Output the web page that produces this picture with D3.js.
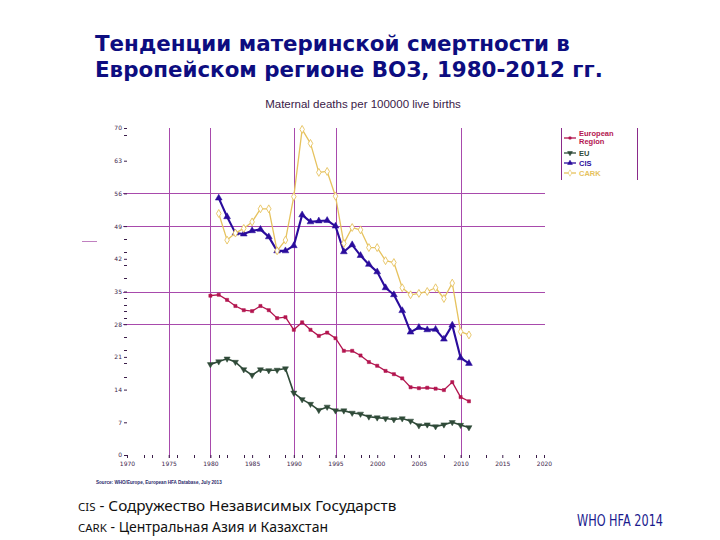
<!DOCTYPE html>
<html>
<head>
<meta charset="utf-8">
<script src="https://cdn.jsdelivr.net/npm/d3@7"></script>
<style>
  html, body { margin: 0; padding: 0; background: #fff; }
  svg { display: block; }
</style>
</head>
<body>
<svg id="chart" width="720" height="540"></svg>
<script>
// ---- DATA ----
const titleLines = ["Тенденции материнской смертности в", "Европейском регионе ВОЗ, 1980-2012 гг."];
const chartTitle = "Maternal deaths per 100000 live births";
const sourceText = "Source: WHO/Europe, European HFA Database, July 2013";
const footLines = [["CIS", " - Содружество Независимых Государств"], ["CARK", " - Центральная Азия и Казахстан"]];
const footRight = "WHO HFA 2014";

const yTickValues = [0, 7, 14, 21, 28, 35, 42, 49, 56, 63, 70];
const yMinorTicks = [68.6, 46.2, 43.4, 40.6, 37.8, 33.6, 32.2, 30.8, 29.4, 25.2, 22.4, 19.6, 16.8];
const xTickValues = [1970, 1975, 1980, 1985, 1990, 1995, 2000, 2005, 2010, 2015, 2020];
const xMinorTicks = [1972, 1973, 1976, 1978, 1981, 1982, 1984, 1987, 1989, 1991, 1993, 1996, 1998, 1999, 2002, 2004, 2008, 2011, 2013, 2017, 2019];
const yGrid = [28, 35, 49, 56];
const xGrid = [1975, 1980, 1990, 1995, 2010];

const yearsER = d3.range(1980, 2012);
const valuesER = [34.1, 34.3, 33.2, 31.9, 31.0, 30.8, 31.9, 31.0, 29.3, 29.5, 26.8, 28.4, 26.8, 25.5, 26.2, 25.0,
                  22.3, 22.3, 21.3, 19.9, 19.1, 18.0, 17.3, 16.4, 14.5, 14.3, 14.4, 14.2, 13.9, 15.6, 12.4, 11.5];
const yearsEU = d3.range(1980, 2012);
const valuesEU = [19.4, 20.0, 20.6, 19.9, 18.3, 17.1, 18.3, 18.1, 18.2, 18.5, 13.3, 11.9, 10.9, 9.6, 10.3, 9.5,
                  9.5, 9.0, 8.8, 8.2, 8.0, 7.8, 7.6, 7.8, 7.3, 6.3, 6.5, 6.1, 6.5, 7.0, 6.4, 5.9];
const yearsCIS = d3.range(1981, 2012);
const valuesCIS = [55.0, 51.0, 47.5, 47.3, 48.0, 48.3, 46.7, 43.7, 43.7, 44.8, 51.4, 49.9, 50.1, 50.2, 49.0,
                   43.5, 45.0, 42.7, 40.8, 39.2, 35.8, 34.3, 30.9, 26.3, 27.3, 26.8, 26.9, 24.8, 27.8, 20.8, 19.6];
const yearsCARK = d3.range(1981, 2012);
const valuesCARK = [51.7, 46.0, 47.5, 48.5, 49.9, 52.7, 52.7, 43.7, 46.0, 55.3, 69.7, 66.7, 60.5, 60.7, 55.4,
                    45.3, 48.7, 48.2, 44.4, 44.4, 41.6, 41.2, 35.8, 34.3, 34.6, 35.0, 35.8, 33.5, 36.8, 26.4, 25.7];

const seriesNames = ["European Region", "EU", "CIS", "CARK"];
const seriesColors = ["#b3154f", "#2f4a38", "#2a0c9c", "#e6c25e"];

// ---- DRAW ----
const svg = d3.select("#chart");
const x = d3.scaleLinear().domain([1970, 2020]).range([127, 544]);
const y = d3.scaleLinear().domain([0, 70]).range([455, 128]);
const crisp = v => Math.round(v) + 0.5;
const gridColor = "#a84aac";
const axisText = "#3b1d4a";

// Title
svg.append("g").selectAll("text").data(titleLines).join("text")
  .attr("x", 95).attr("y", (d, i) => 51 + i * 26)
  .attr("font-family", "DejaVu Sans").attr("font-weight", "bold")
  .attr("font-size", 21.4).attr("fill", "#0d0d80")
  .text(d => d);

// chart title
svg.append("text").attr("x", 363).attr("y", 108).attr("text-anchor", "middle")
  .attr("font-family", "Liberation Sans, Arial").attr("font-size", 11.5).attr("fill", "#3a1a48")
  .text(chartTitle);

// grid
svg.append("g").selectAll("line").data(yGrid).join("line")
  .attr("x1", 123).attr("x2", 545).attr("y1", d => crisp(y(d))).attr("y2", d => crisp(y(d)))
  .attr("stroke", gridColor).attr("stroke-width", 1);
svg.append("g").selectAll("line").data(xGrid).join("line")
  .attr("x1", d => crisp(x(d))).attr("x2", d => crisp(x(d))).attr("y1", y(70)).attr("y2", 458)
  .attr("stroke", gridColor).attr("stroke-width", 1);

// y axis (no domain line)
const yAxis = d3.axisLeft(y).tickValues(yTickValues).tickSize(3).tickPadding(2);
const gy = svg.append("g").attr("transform", "translate(127,0)").call(yAxis);
gy.select(".domain").remove();
gy.selectAll("line").attr("stroke", axisText);
gy.selectAll("text").attr("font-family", "DejaVu Sans").attr("font-size", 6).attr("fill", axisText);
svg.append("g").selectAll("line").data(yMinorTicks).join("line")
  .attr("x1", 124).attr("x2", 127).attr("y1", d => crisp(y(d))).attr("y2", d => crisp(y(d)))
  .attr("stroke", axisText).attr("stroke-width", 1);

// x axis
const xAxis = d3.axisBottom(x).tickValues(xTickValues).tickFormat(d3.format("d")).tickSize(3).tickPadding(4);
const gx = svg.append("g").attr("transform", "translate(0,455)").call(xAxis);
gx.select(".domain").remove();
gx.selectAll("line").attr("stroke", axisText);
gx.selectAll("text").attr("font-family", "DejaVu Sans").attr("font-size", 6).attr("fill", axisText);
svg.append("g").selectAll("line").data(xMinorTicks).join("line")
  .attr("x1", d => crisp(x(d))).attr("x2", d => crisp(x(d))).attr("y1", 455).attr("y2", 458)
  .attr("stroke", axisText).attr("stroke-width", 1);

// small stray line left of chart
svg.append("line").attr("x1", 82).attr("x2", 97).attr("y1", 241.5).attr("y2", 241.5)
  .attr("stroke", "#c080c0").attr("stroke-width", 1);

// series
const all = [
  {years: yearsER, values: valuesER, color: seriesColors[0], w: 1.3, marker: "square"},
  {years: yearsEU, values: valuesEU, color: seriesColors[1], w: 1.6, marker: "tridown"},
  {years: yearsCIS, values: valuesCIS, color: seriesColors[2], w: 2.1, marker: "triup"},
  {years: yearsCARK, values: valuesCARK, color: seriesColors[3], w: 1.3, marker: "diamond"}
];
const line = d3.line().x(d => x(d[0])).y(d => y(d[1]));
const symbolFor = {
  square: d3.symbol().type(d3.symbolSquare).size(10),
  tridown: d3.symbol().type(d3.symbolTriangle).size(16),
  triup: d3.symbol().type(d3.symbolTriangle).size(20),
  diamond: d3.symbol().type(d3.symbolDiamond).size(18)
};
all.forEach(s => {
  const pts = s.years.map((yr, i) => [yr, s.values[i]]);
  svg.append("path").datum(pts).attr("d", line)
    .attr("fill", "none").attr("stroke", s.color).attr("stroke-width", s.w).attr("stroke-linejoin", "round");
  svg.append("g").selectAll("path").data(pts).join("path")
    .attr("d", symbolFor[s.marker])
    .attr("transform", d => `translate(${x(d[0])},${y(d[1])})${s.marker === "tridown" ? " rotate(180)" : ""}`)
    .attr("fill", s.marker === "diamond" ? "#fff" : s.color)
    .attr("stroke", s.color).attr("stroke-width", s.marker === "diamond" ? 0.9 : 0.5);
});

// legend
const lg = svg.append("g");
lg.append("line").attr("x1", 561.5).attr("x2", 561.5).attr("y1", 128).attr("y2", 180).attr("stroke", "#8a2a8a").attr("stroke-width", 1);
lg.append("line").attr("x1", 637.5).attr("x2", 637.5).attr("y1", 128).attr("y2", 180).attr("stroke", "#8a2a8a").attr("stroke-width", 1);
const legendRows = [
  {name: ["European", "Region"], y: 138, color: seriesColors[0], marker: "square"},
  {name: ["EU"], y: 153, color: seriesColors[1], marker: "tridown"},
  {name: ["CIS"], y: 163, color: seriesColors[2], marker: "triup"},
  {name: ["CARK"], y: 173, color: seriesColors[3], marker: "diamond"}
];
const legendSym = {
  square: d3.symbol().type(d3.symbolSquare).size(5),
  tridown: d3.symbol().type(d3.symbolTriangle).size(10),
  triup: d3.symbol().type(d3.symbolTriangle).size(10),
  diamond: d3.symbol().type(d3.symbolDiamond).size(12)
};
legendRows.forEach(r => {
  lg.append("line").attr("x1", 564).attr("x2", 576).attr("y1", r.y).attr("y2", r.y)
    .attr("stroke", r.color).attr("stroke-width", 1.3);
  lg.append("path").attr("d", legendSym[r.marker])
    .attr("transform", `translate(570,${r.y})${r.marker === "tridown" ? " rotate(180)" : ""}`)
    .attr("fill", r.marker === "diamond" ? "#fff" : r.color).attr("stroke", r.color).attr("stroke-width", 0.6);
  const t = lg.append("text").attr("x", 579).attr("y", r.y - 5 * (r.name.length - 1) + 2.5)
    .attr("font-family", "Liberation Sans, Arial").attr("font-weight", "bold").attr("font-size", 7.5).attr("fill", r.color);
  r.name.forEach((n, i) => t.append("tspan").attr("x", 579).attr("dy", i === 0 ? 0 : 8.5).text(n));
});

// source
svg.append("text").attr("x", 96).attr("y", 484)
  .attr("font-family", "Liberation Sans, Arial").attr("font-weight", "bold").attr("font-size", 4.6).attr("fill", "#2a2a6a")
  .text(sourceText);

// footer
footLines.forEach((fl, i) => {
  const t = svg.append("text").attr("x", 78).attr("y", 511 + i * 21)
    .attr("font-family", "Noto Sans, Open Sans").attr("fill", "#111");
  t.append("tspan").attr("font-size", 11.5).text(fl[0]);
  t.append("tspan").attr("font-size", i === 0 ? 15.3 : 14).text(fl[1]);
});
svg.append("text").attr("x", 577).attr("y", 526)
  .attr("font-family", "DejaVu Sans").attr("font-size", 15)
  .attr("textLength", 86).attr("lengthAdjust", "spacingAndGlyphs").attr("fill", "#1a1a8e")
  .text(footRight);
</script>
</body>
</html>
